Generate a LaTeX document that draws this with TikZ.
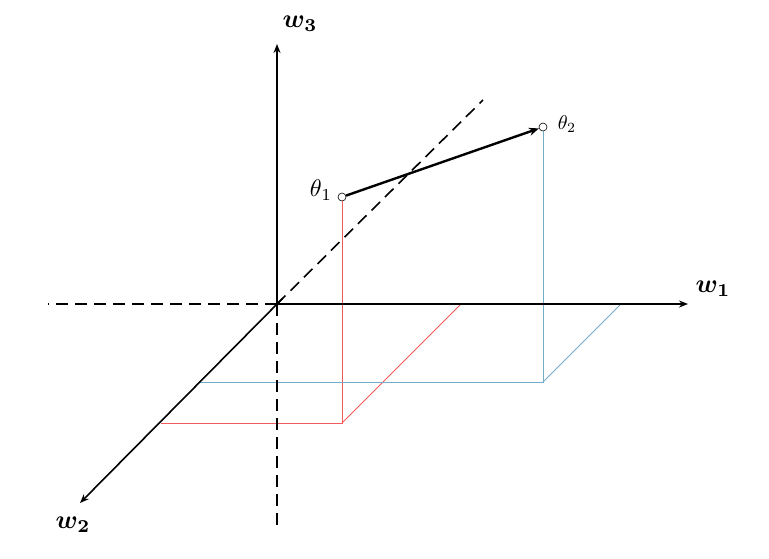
\documentclass[tikz,border=0pt]{standalone}
\usepackage{amsmath,bm}
\usetikzlibrary{arrows.meta}
\definecolor{projred}{RGB}{240,90,90}
\definecolor{projblue}{RGB}{115,172,200}
\tikzset{
  axis/.style={line width=1.6pt,-{Stealth[length=9pt,width=7pt]}},
  dashaxis/.style={line width=1.6pt,dash pattern=on 12pt off 7pt},
  projr/.style={projred,line width=0.8pt},
  projb/.style={projblue,line width=0.8pt},
  pt/.style={circle,draw,inner sep=0pt,minimum size=8pt,line width=0.6pt},
  axlabel/.style={scale=2.6},
}
\begin{document}
\begin{tikzpicture}[x=1pt,y=-1pt]
\useasboundingbox (0,0) rectangle (769,558);
\coordinate (O) at (277,304);
\coordinate (w1end) at (688,304);
\coordinate (w3end) at (277,44);
\coordinate (w2end) at (80,503);
\coordinate (w1neg) at (48,304);
\coordinate (w3neg) at (277,528);
\coordinate (w2neg) at (483,100);
\coordinate (w2start) at (283,298);
% theta points
\node[pt] (t1) at (342,197) {};
\node[pt] (t2) at (543,127) {};
% projections
\coordinate (r1) at (342,423);
\coordinate (r2) at (161,423);
\coordinate (r3) at (461,304);
\coordinate (b1) at (543,382);
\coordinate (b2) at (199,382);
\coordinate (b3) at (621,304);
\draw[projr] (t1) -- (r1) -- (r2);
\draw[projr] (r1) -- (r3);
\draw[projb] (t2) -- (b1) -- (b2);
\draw[projb] (b1) -- (b3);
% axes
\draw[dashaxis] (O) -- (w1neg);
\draw[dashaxis] (O) -- (w3neg);
\draw[dashaxis] (O) -- (w2neg);
\draw[axis] (O) -- (w1end);
\draw[axis] (O) -- (w3end);
\draw[axis] (w2start) -- (w2end);
% labels
\node[axlabel] (l1) at (713,289) {$\bm{w_1}$};
\node[axlabel] (l2) at (73,525) {$\bm{w_2}$};
\node[axlabel] (l3) at (300,24) {$\bm{w_3}$};
\node[scale=2.4] (lt1) at (321,190) {$\theta_1$};
\node[scale=2.0] (lt2) at (567,124) {$\theta_2$};
% update arrow
\draw[line width=2.4pt,-{Stealth[length=10pt,width=8pt]}] (t1) -- (t2);
\end{tikzpicture}
\end{document}
